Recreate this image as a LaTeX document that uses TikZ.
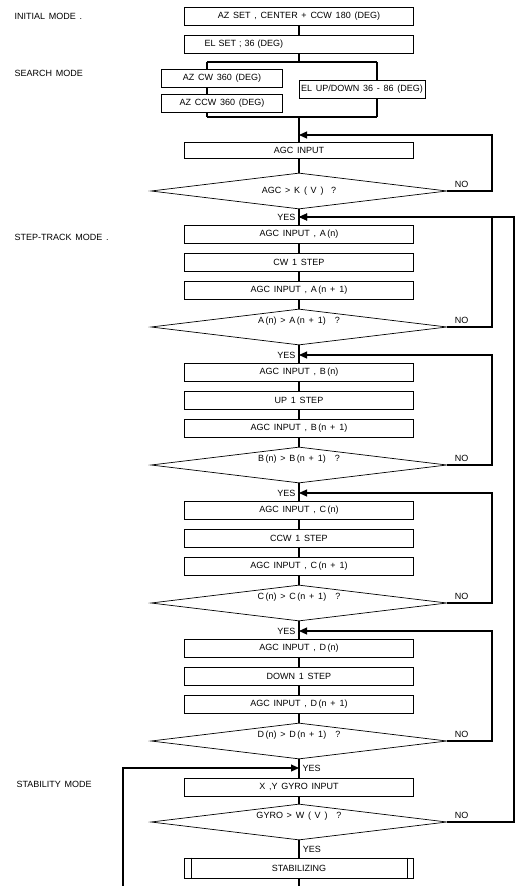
\documentclass[tikz,border=0pt]{standalone}
\usepackage{fontspec}
\setmainfont{Liberation Sans}[WordSpace=1.5]
\usetikzlibrary{shapes.geometric,arrows.meta}

\begin{document}
\begin{tikzpicture}[x=1pt,y=-1pt,font=\fontsize{9}{11}\selectfont,
    box/.style={draw, line width=0.7pt, minimum width=229pt, minimum height=18pt, inner sep=0pt},
    decide/.style={draw, diamond, aspect=8.2, line width=0.7pt, minimum width=296pt, minimum height=36pt, inner sep=0pt, text height=6pt, text depth=14pt},
    wire/.style={line width=1.1pt},
    flow/.style={wire, -{Triangle[length=8pt,width=7pt]}}]
    \useasboundingbox (0,0) rectangle (521,886);

    \node[right] (initmode) at (11,16) {INITIAL MODE .};
    \node[right] (searchmode) at (11,73) {SEARCH MODE};
    \node[right] (trackmode) at (11,237) {STEP-TRACK MODE .};
    \node[right] (stabmode) at (13,784) {STABILITY MODE};

    \node[box] (azset) at (299,16) {AZ SET , CENTER + CCW 180 (DEG)};
    \node[box, text width=189pt, inner xsep=20pt, align=left] (elset) at (299,44) {EL SET ; 36 (DEG)};
    \coordinate (split) at (299,62);
    \coordinate (splitL) at (207,62);
    \coordinate (splitR) at (377,62);
    \node[box, minimum width=121pt] (azcw) at (222,78) {AZ CW 360 (DEG)};
    \node[box, minimum width=121pt] (azccw) at (222,103) {AZ CCW 360 (DEG)};
    \node[box, minimum width=126pt] (elud) at (362,89) {EL UP/DOWN 36 - 86 (DEG)};
    \coordinate (merge) at (299,117);
    \coordinate (mergeL) at (207,117);
    \coordinate (mergeR) at (377,117);
    \coordinate (retK) at (299,135);
    \coordinate (backK) at (492,135);
    \node[box, minimum height=16pt] (agc) at (299,150) {AGC INPUT};
    \node[decide, text depth=2pt] (gateK) at (299,191) {AGC > K ( V ) \ ?};

    \draw[wire] (azset) -- (elset) -- (split);
    \draw[wire] (splitL) -- (splitR);
    \draw[wire] (splitL) -- (splitL |- azcw.north);
    \draw[wire] (splitL |- azcw.south) -- (splitL |- azccw.north);
    \draw[wire] (splitL |- azccw.south) -- (mergeL);
    \draw[wire] (splitR) -- (splitR |- elud.north);
    \draw[wire] (splitR |- elud.south) -- (mergeR);
    \draw[wire] (mergeL) -- (mergeR);
    \draw[wire] (merge) -- (agc) -- (gateK);
    \draw[flow] (gateK.east) -| (backK) -- (retK);
    \node[above right, xshift=4pt] (noK) at (gateK.east) {NO};

    \foreach \s/\dir/\y in {A/CW/217,B/UP/355,C/CCW/493,D/DOWN/631}{
        \coordinate (yes\s) at (299,\y);
        \coordinate (back\s) at (492,\y);
        \node[box] (in\s) at (299,\y+17) {AGC INPUT , \s\,(n)};
        \node[box] (step\s) at (299,\y+45) {\dir\ 1 STEP};
        \node[box] (next\s) at (299,\y+73) {AGC INPUT , \s\,(n + 1)};
        \node[decide] (gate\s) at (299,\y+110) {\s\,(n) > \s\,(n + 1)\quad ?};
        \node[left] (yeslbl\s) at (yes\s) {YES};
        \node[above right, xshift=4pt] (no\s) at (gate\s.east) {NO};
        \draw[wire] (yes\s) -- (in\s) -- (step\s) -- (next\s) -- (gate\s);
        \draw[flow] (gate\s.east) -| (back\s) -- (yes\s);
    }
    \foreach \a/\b in {K/A,A/B,B/C,C/D}
        \draw[wire] (gate\a) -- (yes\b);

    \coordinate (yesG) at (299,768);
    \coordinate (loopL) at (123,768);
    \coordinate (loopB) at (123,886);
    \coordinate (outer) at (514,217);
    \coordinate (exit) at (299,886);
    \node[box] (gyro) at (299,787) {X ,Y GYRO INPUT};
    \node[decide] (gateG) at (299,822) {GYRO > W ( V )\quad ?};
    \node[box, minimum height=20pt] (stab) at (299,868) {STABILIZING};
    \draw[wire] (gateD) -- (yesG) -- (gyro) -- (gateG) -- node[right] (yeslblS) {YES} (stab) -- (exit);
    \node[right] (yeslblG) at (yesG) {YES};
    \draw[flow] (loopB) -- (loopL) -- (yesG);
    \draw[flow] (gateG.east) -| (outer) -- (yesA);
    \node[above right, xshift=4pt] (noG) at (gateG.east) {NO};
    \draw[line width=0.7pt] ([xshift=7pt]stab.north west) -- ([xshift=7pt]stab.south west)
        ([xshift=-7pt]stab.north east) -- ([xshift=-7pt]stab.south east);
\end{tikzpicture}
\end{document}
